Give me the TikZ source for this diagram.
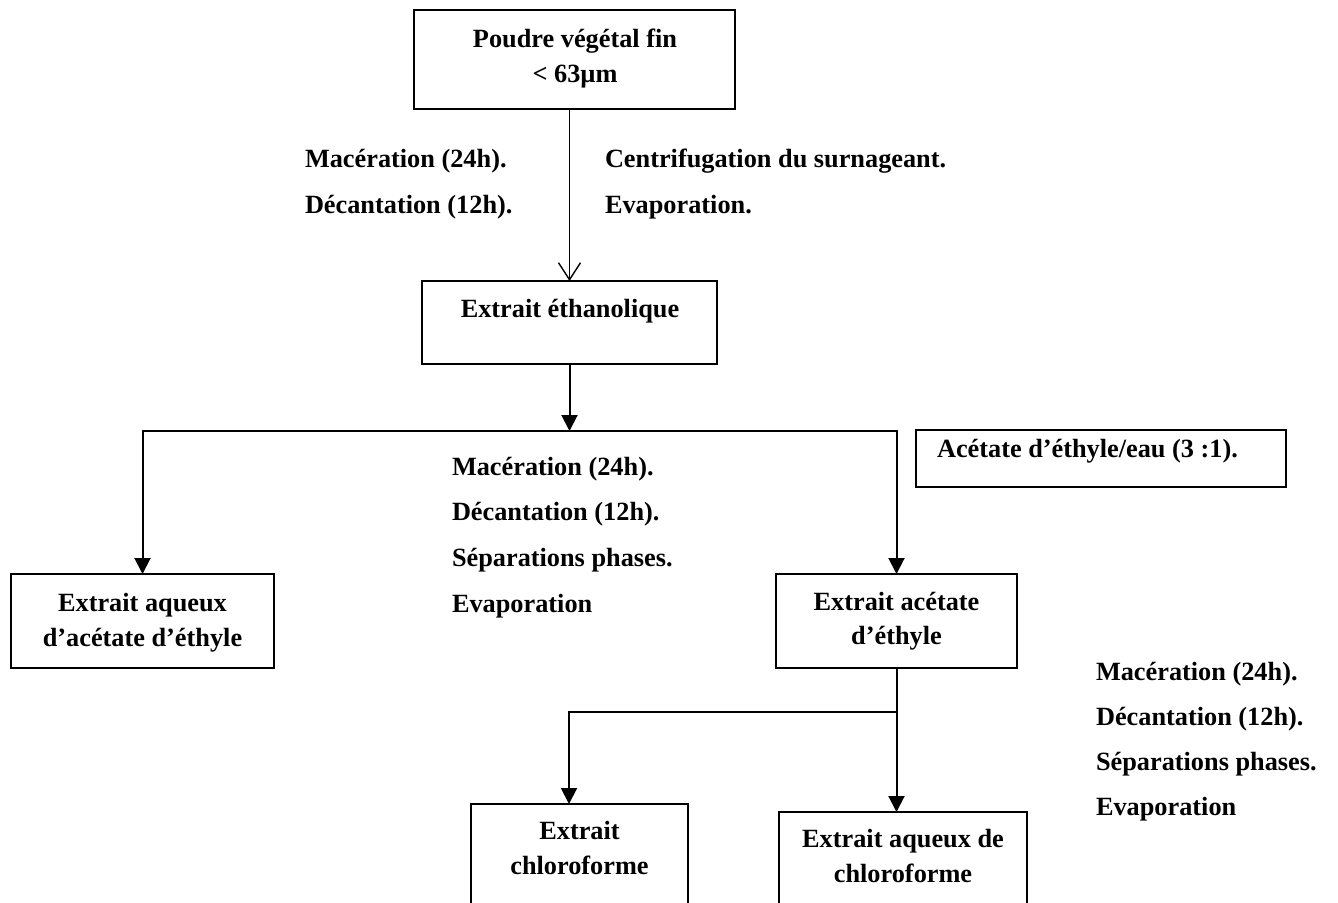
\documentclass[tikz,border=0pt]{standalone}
\usepackage{fontspec}
\setmainfont{Liberation Serif}
\usetikzlibrary{arrows.meta}
\begin{document}
\begin{tikzpicture}[x=1pt,y=-1pt,
  box/.style={draw, line width=2pt, inner sep=0pt, outer sep=0pt},
  txt/.style={font=\fontsize{26.3}{30}\selectfont\bfseries, inner sep=0pt, outer sep=0pt},
  lt/.style={txt, anchor=base west},
  ct/.style={txt, anchor=base},
  conn/.style={line width=2pt},
  arr/.style={conn, -{Triangle[length=16pt,width=16pt]}},
  openarr/.style={line width=1.4pt, -{Straight Barb[length=17pt,width=22pt]}}]
\useasboundingbox (0,0) rectangle (1338,902);
\clip (0,0) rectangle (1338,902);
\fill[white] (0,0) rectangle (1338,902);

% boxes
\node[box, minimum width=321pt, minimum height=99pt] (b1) at (574.5,59.5) {};
\node[box, minimum width=295pt, minimum height=83pt] (b2) at (569.5,322.5) {};
\node[box, minimum width=370pt, minimum height=57pt] (b3) at (1101,458.5) {};
\node[box, minimum width=263pt, minimum height=94pt] (b4) at (142.5,621) {};
\node[box, minimum width=241pt, minimum height=94pt] (b5) at (896.5,621) {};
\node[box, minimum width=217pt, minimum height=126pt] (b6) at (579.5,867) {};
\node[box, minimum width=248pt, minimum height=118pt] (b7) at (903,871) {};

% box texts
\node[ct] (t1a) at (575,47) {Poudre végétal fin};
\node[ct] (t1b) at (575,82) {< 63µm};
\node[ct] (t2) at (570,317) {Extrait éthanolique};
\node[lt] (t3) at (937,457) {Acétate d’éthyle/eau (3 :1).};
\node[ct] (t4a) at (142.5,611) {Extrait aqueux};
\node[ct] (t4b) at (142.5,646) {d’acétate d’éthyle};
\node[ct] (t5a) at (896.5,610) {Extrait acétate};
\node[ct] (t5b) at (896.5,644) {d’éthyle};
\node[ct] (t6a) at (579.5,839) {Extrait};
\node[ct] (t6b) at (579.5,874) {chloroforme};
\node[ct] (t7a) at (903,847) {Extrait aqueux de};
\node[ct] (t7b) at (903,882) {chloroforme};

% step labels
\node[lt] (l1) at (305,167) {Macération (24h).};
\node[lt] (l2) at (305,213) {Décantation (12h).};
\node[lt] (r1) at (605,167) {Centrifugation du surnageant.};
\node[lt] (r2) at (605,213) {Evaporation.};

\node[lt] (m1) at (452,475) {Macération (24h).};
\node[lt] (m2) at (452,520) {Décantation (12h).};
\node[lt] (m3) at (452,566) {Séparations phases.};
\node[lt] (m4) at (452,612) {Evaporation};

\node[lt] (s1) at (1096,680) {Macération (24h).};
\node[lt] (s2) at (1096,725) {Décantation (12h).};
\node[lt] (s3) at (1096,770) {Séparations phases.};
\node[lt] (s4) at (1096,815) {Evaporation};

% connectors
\draw[openarr] (b1.south -| b2.north) -- (b2.north);
\coordinate (j1) at (569.5,431);
\draw[arr] (b2.south) -- (j1);
\draw[arr] (j1) -- (b4.north |- j1) -- (b4.north);
\draw[arr] (j1) -- (b5.north |- j1) -- (b5.north);

\path (b5.south) ++(0,44) coordinate (j2);
\coordinate (j2L) at (569,712);
\draw[arr] (b5.south) -- (b5.south |- b7.north);
\draw[arr] (j2) -- (j2L) -- (j2L |- b6.north);
\end{tikzpicture}
\end{document}
